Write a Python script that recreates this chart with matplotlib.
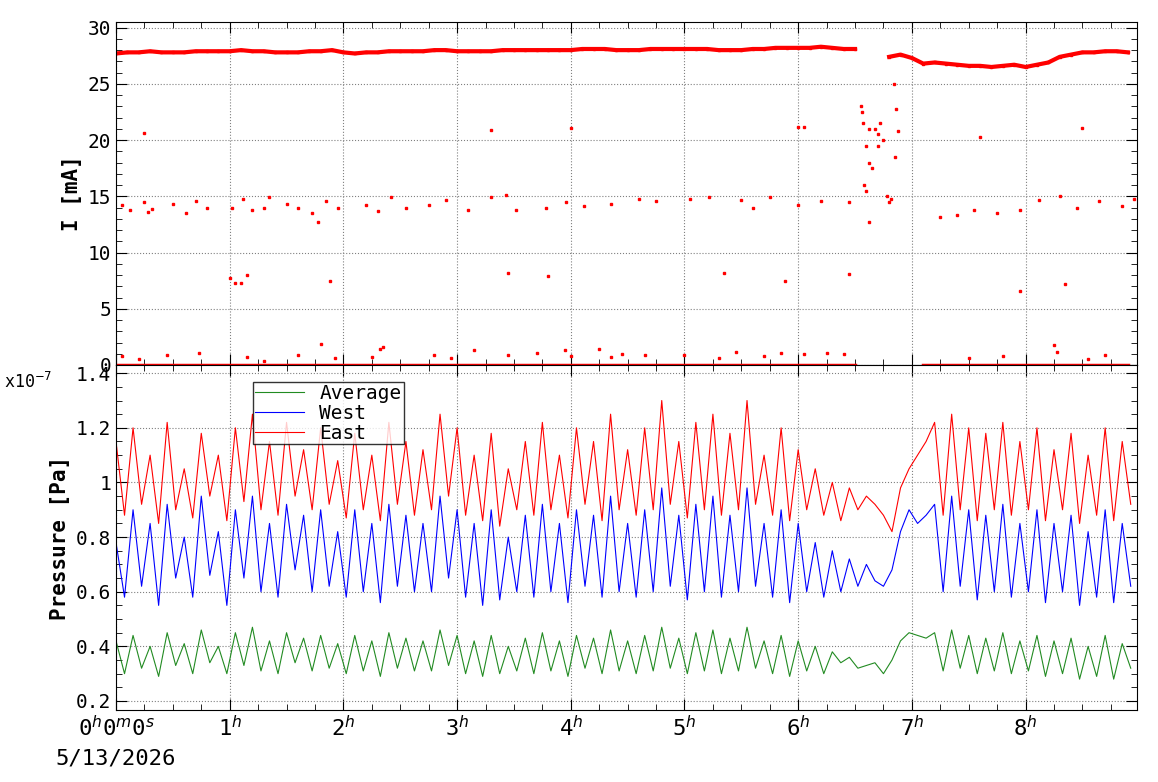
import numpy as np
import matplotlib
matplotlib.use("Agg")
import matplotlib.pyplot as plt
from matplotlib.ticker import MultipleLocator, FormatStrFormatter

plt.rcParams['font.family'] = 'DejaVu Sans Mono'

# current: main beam level, 0.1 h grid
cur_main = [27.7,27.8,27.8,27.9,27.8,27.8,27.8,27.9,27.9,27.9,
            27.9,28.0,27.9,27.9,27.8,27.8,27.8,27.9,27.9,28.0,
            27.8,27.7,27.8,27.8,27.9,27.9,27.9,27.9,28.0,28.0,
            27.9,27.9,27.9,27.9,28.0,28.0,28.0,28.0,28.0,28.0,
            28.0,28.1,28.1,28.1,28.0,28.0,28.0,28.1,28.1,28.1,
            28.1,28.1,28.1,28.0,28.0,28.0,28.1,28.1,28.2,28.2,
            28.2,28.2,28.3,28.2,28.1,28.1,np.nan,np.nan,27.4,27.6,
            27.3,26.8,26.9,26.8,26.7,26.6,26.6,26.5,26.6,26.7,
            26.5,26.7,26.9,27.4,27.6,27.8,27.8,27.9,27.9,27.8]
cur_zero = [0.0]*66 + [np.nan]*5 + [0.0]*19

out_t = [0.05,0.12,0.25,0.28,0.32,0.5,0.62,0.7,0.8,1.02,1.12,1.2,1.3,1.35,1.5,1.6,1.72,1.78,1.85,1.95,
         2.2,2.3,2.42,2.55,2.75,2.9,3.1,3.3,3.43,3.52,3.78,3.96,4.12,4.35,4.6,4.75,5.05,5.22,5.5,5.6,
         5.75,6.0,6.2,6.45,7.25,7.4,7.55,7.75,7.95,8.12,8.3,8.45,8.65,8.85,8.95,
         0.25,3.3,4.0,6.0,6.05,7.6,8.5,1.0,1.05,1.1,1.15,1.88,3.45,3.8,5.35,5.88,6.45,7.95,8.35,
         6.55,6.56,6.57,6.6,6.62,6.58,6.6,6.62,6.65,6.68,6.7,6.72,6.75,6.7,6.78,6.8,6.82,6.85,6.88,6.84,6.86,6.62,
         0.05,0.2,0.45,0.73,1.15,1.3,1.6,1.8,1.93,2.25,2.32,2.35,2.8,2.95,3.15,3.45,3.7,3.95,4.0,4.25,
         4.35,4.45,4.65,5.0,5.3,5.45,5.7,5.85,6.05,6.25,6.4,7.5,7.8,8.25,8.28,8.55,8.7]
out_i = [14.2,13.8,14.5,13.6,13.9,14.3,13.5,14.6,14.0,14.0,14.8,13.8,14.0,14.9,14.3,14.0,13.5,12.7,14.6,14.0,
         14.2,13.7,14.9,14.0,14.2,14.7,13.8,14.9,15.1,13.8,14.0,14.5,14.1,14.3,14.8,14.6,14.8,14.9,14.7,14.0,
         14.9,14.2,14.6,14.5,13.2,13.3,13.8,13.5,13.8,14.7,15.0,14.0,14.6,14.1,14.8,
         20.6,20.9,21.1,21.2,21.2,20.3,21.1,7.7,7.3,7.3,8.0,7.5,8.2,7.9,8.2,7.5,8.1,6.6,7.2,
         23,22.5,21.5,19.5,18,16,15.5,12.7,17.5,21,20.5,21.5,20,19.5,15,14.5,14.8,18.5,20.8,25,22.8,21,
         0.8,0.5,0.9,1.1,0.7,0.4,0.9,1.9,0.6,0.7,1.4,1.6,0.9,0.6,1.3,0.9,1.1,1.3,0.8,1.4,
         0.7,1.0,0.9,0.9,0.6,1.2,0.8,1.1,1.0,1.1,1.0,0.6,0.8,1.8,1.2,0.5,0.9]

# pressure in units of 1e-7 Pa, 0.075 h grid
east = [1.15,0.88,1.2,0.92,1.1,0.85,1.22,0.9,1.05,0.87,1.18,0.95,
        1.1,0.86,1.2,0.93,1.25,0.9,1.15,0.88,1.22,0.95,1.12,0.9,
        1.2,0.92,1.08,0.87,1.18,0.9,1.1,0.86,1.22,0.92,1.15,0.88,
        1.12,0.9,1.25,0.95,1.2,0.88,1.1,0.86,1.18,0.84,1.05,0.9,
        1.15,0.88,1.22,0.9,1.1,0.87,1.2,0.92,1.15,0.86,1.25,0.9,
        1.12,0.88,1.2,0.9,1.3,0.92,1.15,0.87,1.22,0.9,1.25,0.88,
        1.18,0.9,1.3,0.92,1.1,0.88,1.2,0.86,1.12,0.9,1.05,0.88,
        1.0,0.86,0.98,0.9,0.95,0.92,0.88,0.82,0.98,1.05,1.1,1.15,
        1.22,0.88,1.25,0.9,1.2,0.86,1.18,0.9,1.22,0.88,1.15,0.9,
        1.2,0.86,1.12,0.9,1.18,0.85,1.1,0.88,1.2,0.86,1.15,0.92]
west = [0.78,0.58,0.9,0.62,0.85,0.55,0.92,0.65,0.8,0.58,0.95,0.66,
        0.82,0.55,0.9,0.65,0.95,0.6,0.85,0.58,0.92,0.68,0.88,0.6,
        0.9,0.62,0.82,0.58,0.9,0.6,0.85,0.56,0.92,0.62,0.88,0.6,
        0.85,0.6,0.95,0.65,0.9,0.58,0.85,0.55,0.9,0.57,0.8,0.6,
        0.88,0.58,0.92,0.6,0.85,0.56,0.9,0.62,0.88,0.58,0.95,0.6,
        0.85,0.58,0.9,0.6,0.98,0.62,0.88,0.57,0.92,0.6,0.95,0.58,
        0.88,0.6,0.98,0.62,0.85,0.58,0.9,0.56,0.85,0.6,0.78,0.58,
        0.75,0.6,0.72,0.62,0.7,0.64,0.62,0.68,0.82,0.9,0.85,0.88,
        0.92,0.6,0.95,0.62,0.9,0.57,0.88,0.6,0.92,0.58,0.85,0.6,
        0.9,0.56,0.85,0.6,0.88,0.55,0.82,0.58,0.9,0.56,0.85,0.62]
average = [0.42,0.3,0.44,0.32,0.4,0.29,0.45,0.33,0.41,0.3,0.46,0.34,
           0.4,0.3,0.45,0.33,0.47,0.31,0.42,0.3,0.45,0.34,0.43,0.31,
           0.44,0.32,0.41,0.3,0.44,0.31,0.42,0.29,0.45,0.32,0.43,0.31,
           0.42,0.31,0.46,0.33,0.44,0.3,0.42,0.29,0.44,0.3,0.4,0.31,
           0.43,0.3,0.45,0.31,0.42,0.29,0.44,0.32,0.43,0.3,0.46,0.31,
           0.42,0.3,0.44,0.31,0.47,0.32,0.43,0.3,0.45,0.31,0.46,0.3,
           0.43,0.31,0.47,0.32,0.42,0.3,0.44,0.29,0.42,0.31,0.4,0.3,
           0.38,0.34,0.36,0.32,0.33,0.34,0.3,0.35,0.42,0.45,0.44,0.43,
           0.45,0.31,0.46,0.32,0.44,0.3,0.43,0.31,0.45,0.3,0.42,0.31,
           0.44,0.29,0.42,0.3,0.43,0.28,0.4,0.29,0.44,0.28,0.41,0.32]

hour_labels = ['0$^{h}$0$^{m}$0$^{s}$'] + ['%d$^{h}$' % h for h in range(1, 9)]

t_cur = np.arange(len(cur_main)) * 0.1
t_p = np.arange(len(east)) * 0.075

fig = plt.figure(figsize=(11.58, 7.82), dpi=100)
W, H = 1158, 782
ax1 = fig.add_axes([116/W, 1-365/H, (1137-116)/W, (365-22)/H])
ax2 = fig.add_axes([116/W, 1-710/H, (1137-116)/W, (710-365)/H], sharex=ax1)

ax1.plot(t_cur, cur_main, color='red', lw=3, marker='s', ms=2)
ax1.plot(t_cur, cur_zero, color='red', lw=2.5)
ax1.plot(out_t, out_i, 's', color='red', ms=2)
ax1.set_ylim(0, 30.5)
ax1.set_ylabel('I [mA]', fontsize=15, fontweight='bold')

ax2.plot(t_p, east, color='red', lw=0.8, label='East')
ax2.plot(t_p, west, color='blue', lw=0.8, label='West')
ax2.plot(t_p, average, color='forestgreen', lw=0.8, label='Average')
ax2.set_ylim(0.167, 1.43)
ax2.set_ylabel('Pressure [Pa]', fontsize=15, fontweight='bold')
ax2.yaxis.set_major_locator(MultipleLocator(0.2))
ax2.yaxis.set_minor_locator(MultipleLocator(0.05))
ax2.yaxis.set_major_formatter(FormatStrFormatter('%g'))
h, l = ax2.get_legend_handles_labels()
leg = ax2.legend(h[::-1], l[::-1], loc='upper left', bbox_to_anchor=(0.125, 0.98),
                 fontsize=14, frameon=True, fancybox=False, edgecolor='black',
                 handlelength=2.5, borderpad=0.1, labelspacing=0.05)
leg.get_frame().set_linewidth(1)
fig.text(4/W, 1-388/H, 'x10$^{-7}$', fontsize=12)

for ax in (ax1, ax2):
    ax.set_xlim(0, 8.98)
    ax.grid(True, linestyle=':', color='gray', lw=0.8)
    ax.tick_params(direction='in', which='both', labelsize=14, top=True, right=True)
    ax.tick_params(which='major', length=8)
    ax.tick_params(which='minor', length=4)
ax1.yaxis.set_minor_locator(MultipleLocator(1))
ax1.xaxis.set_major_locator(MultipleLocator(1))
ax1.xaxis.set_minor_locator(MultipleLocator(0.25))
ax1.tick_params(labelbottom=False)
ax2.set_xticks(range(9))
ax2.set_xticklabels(hour_labels, fontsize=16)
fig.text(55/W, 1-758/H, '5/13/2026', fontsize=16, va='center')

fig.savefig('out.png')
